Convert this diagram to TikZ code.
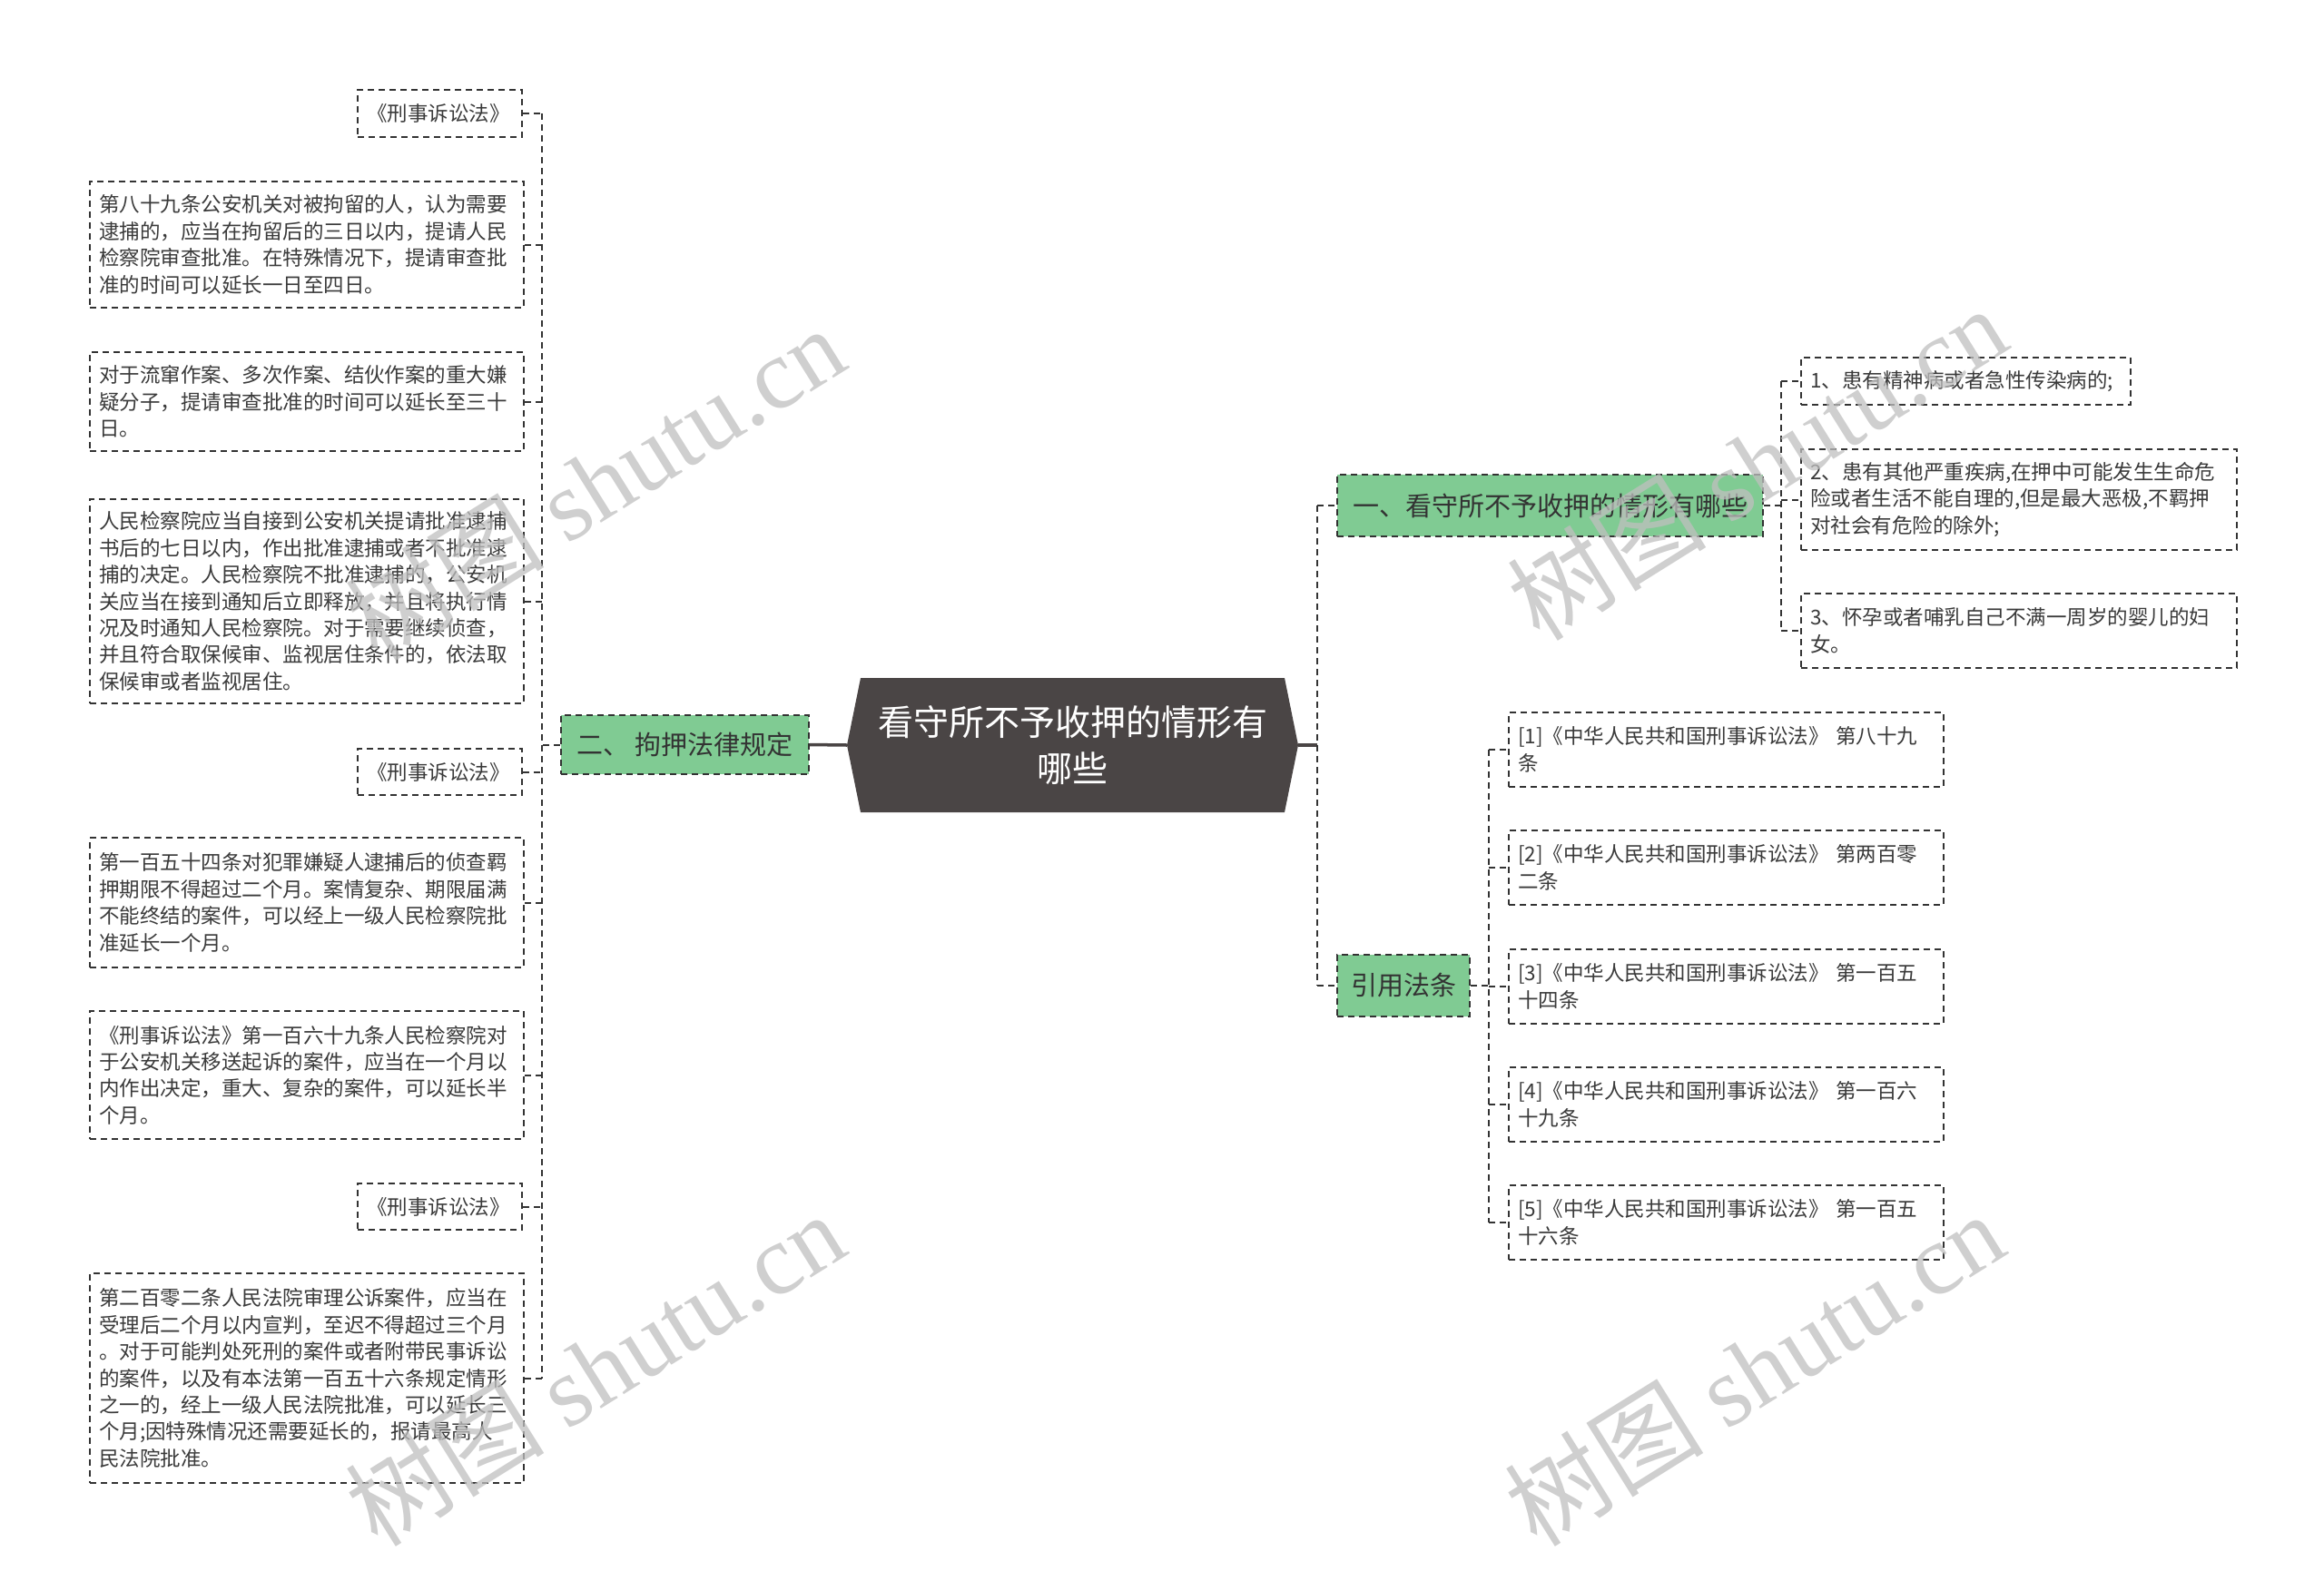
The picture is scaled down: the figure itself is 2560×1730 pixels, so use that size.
\documentclass[tikz,border=0pt]{standalone}
\usepackage{fontspec}
\setmainfont{Noto Sans CJK SC}
\newfontfamily\wmlatin{Liberation Serif}
\definecolor{branchgreen}{HTML}{80CB93}
\definecolor{rootgray}{HTML}{4A4545}
\definecolor{linegray}{HTML}{333333}
\definecolor{txtgray}{HTML}{3A3A3A}
\newcommand{\leaffont}{\fontsize{22.5}{29.4}\selectfont}
\newcommand{\branchfont}{\fontsize{29}{36}\selectfont}
\newcommand{\rootfont}{\fontsize{39}{51}\selectfont}
\newcommand{\wmfont}{\fontsize{110}{120}\selectfont}

\begin{document}
\begin{tikzpicture}[
    x=1pt, y=-1pt,
    dashbox/.style={draw=linegray, line width=2, dash pattern=on 7pt off 5pt},
    leaf/.style={dashbox, fill=white, text=txtgray, font=\leaffont, align=left,
                 inner xsep=10, inner ysep=0, anchor=north west, text width=458},
    branch/.style={dashbox, fill=branchgreen, text=black!80, font=\branchfont,
                   inner sep=0, minimum height=68},
    link/.style={linegray, line width=2, dash pattern=on 7pt off 5pt},
    trunk/.style={rootgray, line width=3.5},
    wmark/.style={rotate=32, text=black!25, opacity=0.75, font=\wmfont},
  ]
  \useasboundingbox (0,0) rectangle (2560,1730);
  \fill[white] (0,0) rectangle (2560,1730);

  % central topic
  \coordinate (rootL) at (933,821);
  \coordinate (rootR) at (1430,821);
  \fill[rootgray] (rootL) -- (948,747) -- (1415,747) -- (rootR)
    -- (1415,895) -- (948,895) -- cycle;
  \node[text=white, font=\rootfont, align=center] (root) at (1181.5,821)
    {看守所不予收押的情形有\\哪些};

  % main branches
  \node[branch, minimum width=273, minimum height=65, anchor=east] (b2)
    at (892,820.5) {二、\ 拘押法律规定};
  \node[branch, minimum width=469, anchor=west] (b1)
    at (1472,557) {一、看守所不予收押的情形有哪些};
  \node[branch, minimum width=146, anchor=west] (b3)
    at (1472,1086) {引用法条};

  % left leaves (二)
  \node[leaf, anchor=north east, text width=161, minimum height=52] (l1)
    at (576,98) {《刑事诉讼法》};
  \node[leaf, minimum height=139] (l2) at (98,199)
    {第八十九条公安机关对被拘留的人，认为需要\\逮捕的，应当在拘留后的三日以内，提请人民\\检察院审查批准。在特殊情况下，提请审查批\\准的时间可以延长一日至四日。};
  \node[leaf, minimum height=109] (l3) at (98,387)
    {对于流窜作案、多次作案、结伙作案的重大嫌\\疑分子，提请审查批准的时间可以延长至三十\\日。};
  \node[leaf, minimum height=225] (l4) at (98,549)
    {人民检察院应当自接到公安机关提请批准逮捕\\书后的七日以内，作出批准逮捕或者不批准逮\\捕的决定。人民检察院不批准逮捕的，公安机\\关应当在接到通知后立即释放，并且将执行情\\况及时通知人民检察院。对于需要继续侦查，\\并且符合取保候审、监视居住条件的，依法取\\保候审或者监视居住。};
  \node[leaf, anchor=north east, text width=161, minimum height=51] (l5)
    at (576,824) {《刑事诉讼法》};
  \node[leaf, minimum height=143] (l6) at (98,922)
    {第一百五十四条对犯罪嫌疑人逮捕后的侦查羁\\押期限不得超过二个月。案情复杂、期限届满\\不能终结的案件，可以经上一级人民检察院批\\准延长一个月。};
  \node[leaf, minimum height=141] (l7) at (98,1113)
    {《刑事诉讼法》第一百六十九条人民检察院对\\于公安机关移送起诉的案件，应当在一个月以\\内作出决定，重大、复杂的案件，可以延长半\\个月。};
  \node[leaf, anchor=north east, text width=161, minimum height=51] (l8)
    at (576,1303) {《刑事诉讼法》};
  \node[leaf, minimum height=231] (l9) at (98,1402)
    {第二百零二条人民法院审理公诉案件，应当在\\受理后二个月以内宣判，至迟不得超过三个月\\。对于可能判处死刑的案件或者附带民事诉讼\\的案件，以及有本法第一百五十六条规定情形\\之一的，经上一级人民法院批准，可以延长三\\个月;因特殊情况还需要延长的，报请最高人\\民法院批准。};

  % right leaves (一)
  \node[leaf, text width=343, minimum height=52] (r1) at (1983,393)
    {1、患有精神病或者急性传染病的;};
  \node[leaf, text width=460, minimum height=111] (r2) at (1983,494)
    {2、患有其他严重疾病,在押中可能发生生命危\\险或者生活不能自理的,但是最大恶极,不羁押\\对社会有危险的除外;};
  \node[leaf, text width=460, minimum height=82] (r3) at (1983,653)
    {3、怀孕或者哺乳自己不满一周岁的婴儿的妇\\女。};

  % cited articles (引用法条)
  \node[leaf, text width=459, minimum height=82] (c1) at (1661,784)
    {[1]《中华人民共和国刑事诉讼法》 第八十九\\条};
  \node[leaf, text width=459, minimum height=82] (c2) at (1661,914)
    {[2]《中华人民共和国刑事诉讼法》 第两百零\\二条};
  \node[leaf, text width=459, minimum height=82] (c3) at (1661,1045)
    {[3]《中华人民共和国刑事诉讼法》 第一百五\\十四条};
  \node[leaf, text width=459, minimum height=82] (c4) at (1661,1175)
    {[4]《中华人民共和国刑事诉讼法》 第一百六\\十九条};
  \node[leaf, text width=459, minimum height=82] (c5) at (1661,1305)
    {[5]《中华人民共和国刑事诉讼法》 第一百五\\十六条};

  % connectors
  \coordinate (sp0) at (1451,821);
  \coordinate (sp1) at (1962,557);
  \coordinate (sp2) at (597,820.5);
  \coordinate (sp3) at (1640,1086);
  \draw[trunk] (rootL) -- (b2.east);
  \draw[trunk] (rootR) -- (sp0);
  \draw[link] (sp0 |- b1.west) -- (sp0 |- b3.west);
  \draw[link] (sp0 |- b1.west) -- (b1.west);
  \draw[link] (sp0 |- b3.west) -- (b3.west);

  \draw[link] (b2.west) -- (sp2);
  \draw[link] (sp2 |- l1.east) -- (sp2 |- l9.east);
  \draw[link] (l1.east) -- (sp2 |- l1.east);
  \draw[link] (l2.east) -- (sp2 |- l2.east);
  \draw[link] (l3.east) -- (sp2 |- l3.east);
  \draw[link] (l4.east) -- (sp2 |- l4.east);
  \draw[link] (l5.east) -- (sp2 |- l5.east);
  \draw[link] (l6.east) -- (sp2 |- l6.east);
  \draw[link] (l7.east) -- (sp2 |- l7.east);
  \draw[link] (l8.east) -- (sp2 |- l8.east);
  \draw[link] (l9.east) -- (sp2 |- l9.east);

  \draw[link] (b1.east) -- (sp1);
  \draw[link] (sp1 |- r1.west) -- (sp1 |- r3.west);
  \draw[link] (sp1 |- r1.west) -- (r1.west);
  \draw[link] (sp1 |- r2.west) -- (r2.west);
  \draw[link] (sp1 |- r3.west) -- (r3.west);

  \draw[link] (b3.east) -- (sp3);
  \draw[link] (sp3 |- c1.west) -- (sp3 |- c5.west);
  \draw[link] (sp3 |- c1.west) -- (c1.west);
  \draw[link] (sp3 |- c2.west) -- (c2.west);
  \draw[link] (sp3 |- c3.west) -- (c3.west);
  \draw[link] (sp3 |- c4.west) -- (c4.west);
  \draw[link] (sp3 |- c5.west) -- (c5.west);

  % watermark
  \node[wmark] (wm1) at (655,532) {树图 {\wmlatin shutu.cn}};
  \node[wmark] (wm2) at (1935,510) {树图 {\wmlatin shutu.cn}};
  \node[wmark] (wm3) at (655,1508) {树图 {\wmlatin shutu.cn}};
  \node[wmark] (wm4) at (1932,1508) {树图 {\wmlatin shutu.cn}};
\end{tikzpicture}
\end{document}
